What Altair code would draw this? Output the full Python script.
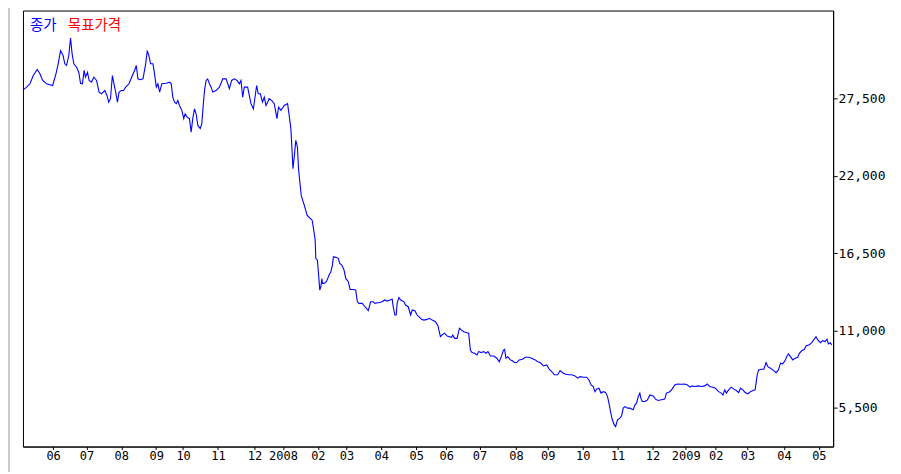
import altair as alt
import pandas as pd

# trading-day position (0 = first session shown) and closing price
day = [0.2, 2.3, 4.4, 6.5, 9.0, 10.7, 12.4, 14.9, 18.7, 20.8, 22.2, 23.7, 25.3, 26.4, 27.5, 28.9, 30.0, 31.0, 32.1, 33.8,
       35.2, 36.3, 37.5, 38.6, 39.4, 40.7, 41.7, 43.2, 44.7, 46.4, 48.0, 49.5, 51.6, 53.0, 54.1, 55.2, 56.4, 57.4, 58.5, 59.6,
       60.6, 62.1, 63.5, 64.8, 66.9, 69.0, 70.4, 71.5, 72.5, 74.0, 75.7, 77.4, 78.4, 79.4, 80.5, 82.0, 83.0, 84.1, 85.1, 86.2,
       87.6, 90.4, 92.5, 93.5, 94.5, 95.6, 96.7, 97.7, 98.7, 100.2, 101.4, 102.3, 103.6, 105.0, 106.1, 107.1, 108.2, 109.2, 110.3, 111.8,
       112.8, 113.6, 114.5, 115.5, 116.5, 117.6, 118.7, 119.7, 121.8, 123.9, 126.0, 128.1, 130.2, 131.6, 133.3, 135.0, 136.5, 137.5, 138.6, 139.6,
       141.7, 143.8, 145.3, 146.5, 147.4, 148.4, 149.7, 151.1, 152.2, 153.3, 154.3, 155.3, 156.8, 158.5, 160.2, 161.2, 162.7, 164.8, 166.9, 167.9,
       169.0, 169.6, 170.3, 171.1, 172.1, 173.1, 173.8, 174.2, 175.5, 177.4, 179.2, 181.1, 182.4, 183.6, 184.3, 184.7, 185.7, 186.4, 187.2, 187.9,
       188.5, 188.9, 189.9, 191.4, 193.1, 194.2, 195.2, 195.8, 197.3, 198.9, 199.8, 201.1, 202.5, 203.6, 205.2, 206.3, 208.8, 209.9, 210.9, 212.0,
       214.0, 215.7, 217.8, 219.3, 220.8, 222.0, 223.5, 224.5, 226.6, 228.1, 229.7, 231.4, 232.9, 233.5, 234.6, 235.4, 236.0, 237.1, 238.2, 239.2,
       240.3, 241.3, 243.0, 244.5, 245.5, 247.2, 248.6, 249.7, 251.4, 252.8, 254.9, 256.4, 258.1, 260.2, 261.8, 262.3, 263.3, 264.3, 266.0, 267.5,
       269.0, 270.3, 271.1, 272.3, 273.8, 275.3, 276.5, 278.0, 280.1, 281.1, 282.2, 283.2, 284.9, 286.4, 287.4, 289.1, 290.6, 292.0, 293.3, 294.8,
       296.9, 298.9, 300.4, 301.7, 303.1, 303.8, 304.6, 305.8, 307.4, 308.4, 310.1, 311.5, 313.0, 315.1, 316.8, 318.9, 320.9, 323.1, 324.7, 326.2,
       328.3, 330.4, 331.9, 333.5, 335.2, 337.3, 338.8, 340.3, 341.9, 344.0, 346.2, 348.2, 349.9, 351.4, 353.5, 355.5, 357.0, 358.3, 359.7, 360.8,
       361.8, 363.3, 364.6, 366.0, 367.5, 368.7, 369.6, 370.6, 371.7, 373.0, 373.8, 375.0, 376.5, 377.6, 378.6, 379.7, 381.3, 382.8, 384.9, 386.0,
       387.0, 388.1, 389.1, 389.7, 390.6, 392.3, 393.9, 395.4, 397.5, 398.9, 400.6, 402.7, 404.8, 405.9, 408.0, 409.4, 411.1, 412.8, 415.3, 417.4,
       419.1, 420.6, 422.0, 423.7, 425.8, 427.9, 430.0, 431.6, 433.1, 435.2, 436.7, 438.8, 440.4, 441.5, 442.6, 443.6, 445.1, 446.7, 448.4, 449.9,
       451.4, 452.6, 454.1, 455.5, 457.2, 458.9, 460.4, 461.8, 463.1, 464.0, 465.6, 467.3, 468.7, 469.8, 471.5, 473.6, 475.0, 476.5, 477.8, 479.2,
       480.7, 481.9, 482.8, 484.1, 485.5, 487.0, 488.7, 489.7, 491.2, 492.9, 493.9, 496.0, 497.5, 498.7, 500.2, 501.3, 503.0, 504.4, 505.9, 507.1,
       508.0, 509.2, 510.1]

price = [28110, 28300, 28540, 29130, 29560, 29250, 28780, 28540, 28420, 29250, 29960, 30900, 30550, 29960, 29840, 30550, 31800, 30670, 29960, 29720,
         29360, 28580, 28540, 29490, 29010, 29360, 28780, 28660, 29010, 28780, 27950, 27830, 28060, 27710, 27230, 27480, 29130, 28540, 27950, 27230,
         27950, 28060, 28060, 28300, 28540, 29130, 29490, 29840, 28890, 28830, 28890, 29960, 30900, 30550, 29960, 29960, 29250, 28300, 28540, 27950,
         28540, 28580, 28660, 28540, 27590, 27230, 27130, 27360, 27000, 26650, 26060, 26410, 26170, 26060, 25100, 26060, 26760, 26410, 25580, 25350,
         25700, 26880, 28060, 28780, 28890, 28540, 28300, 27950, 28060, 28300, 28890, 28890, 28190, 28780, 28890, 28780, 28540, 28780, 27590, 28300,
         28300, 27130, 26760, 27710, 28420, 27830, 27830, 27230, 27590, 27000, 27230, 27480, 27360, 27130, 26060, 26880, 26650, 27000, 27130, 26300,
         25350, 24040, 22510, 23340, 24520, 24040, 22510, 22040, 20610, 19910, 19200, 18980, 18840, 17990, 17430, 16130, 16000, 15060, 13870, 14110,
         14700, 14350, 14350, 14470, 14940, 15170, 15650, 16240, 16200, 16130, 15770, 15650, 15300, 14700, 14470, 13920, 13920, 13870, 13040, 12930,
         12930, 12690, 12410, 13040, 13040, 12930, 12970, 12970, 13040, 13170, 13090, 13170, 13220, 12690, 12100, 12100, 12930, 13350, 13170, 13110,
         13040, 12810, 12690, 12100, 12460, 12410, 12100, 11980, 11790, 11740, 11790, 11870, 11740, 11630, 11320, 11040, 10560, 10680, 10810, 10610,
         10560, 10520, 10680, 10440, 10440, 11160, 11040, 10910, 10840, 10810, 9610, 9430, 9380, 9260, 9500, 9430, 9500, 9380, 9500, 9190,
         9190, 9030, 8780, 9140, 9610, 9660, 9030, 9140, 8910, 8860, 8720, 8720, 8910, 8960, 9100, 9100, 9030, 8910, 8780, 8720,
         8480, 8550, 8250, 8080, 7850, 7850, 8150, 8000, 7910, 7850, 7850, 7770, 7610, 7720, 7680, 7680, 7480, 7130, 7020, 6650,
         6830, 6900, 6550, 6650, 6590, 6300, 5830, 5240, 4650, 4290, 4170, 4650, 4770, 4940, 5480, 5590, 5480, 5480, 5360, 5720,
         5830, 6300, 6550, 6190, 5950, 5950, 6070, 6420, 6350, 6120, 6020, 6070, 6120, 6550, 6650, 6830, 7130, 7200, 7180, 7200,
         7130, 6970, 7060, 7020, 7060, 7020, 7060, 7200, 7020, 6970, 6900, 6650, 6550, 6420, 6780, 6550, 6780, 6970, 6830, 6730,
         6590, 6900, 6780, 6590, 6500, 6650, 6730, 6780, 7850, 8200, 8250, 8250, 8720, 8430, 8310, 8150, 8000, 8200, 8680, 8630,
         8860, 9190, 9330, 9140, 8910, 9030, 9100, 9380, 9560, 9660, 9900, 9980, 10130, 10330, 10560, 10330, 10130, 10280, 10210, 10380,
         10040, 10130, 9980]

# first session of each month and its label
tick_days = [19, 40, 62, 84, 101, 123, 146, 164, 186, 204, 226, 248,
             267, 288, 311, 331, 353, 375, 397, 418, 437, 457, 480, 502]
tick_labels = ["06", "07", "08", "09", "10", "11", "12", "2008", "02", "03", "04", "05",
               "06", "07", "08", "09", "10", "11", "12", "2009", "02", "03", "04", "05"]
y_ticks = [5500, 11000, 16500, 22000, 27500]

legend_names = ["종가", "목표가격"]
legend_colors = ["#0000ff", "#ff0000"]

df = pd.DataFrame({"day": day, "price": price})

label_expr = "[" + ",".join("'" + t + "'" for t in tick_labels) + "][indexof([" + \
             ",".join(str(t) for t in tick_days) + "], datum.value)]"

line = alt.Chart(df).mark_line(color="#0000ff", strokeWidth=1.1).encode(
    x=alt.X("day:Q",
            scale=alt.Scale(domain=[0, 511], nice=False, zero=False),
            axis=alt.Axis(values=tick_days, labelExpr=label_expr, title=None, grid=False,
                          tickSize=3, labelPadding=1, domainColor="black", tickColor="black",
                          labelColor="black", labelFont="DejaVu Sans Mono", labelFontSize=12,
                          labelFlush=False, labelOverlap=False)),
    y=alt.Y("price:Q",
            scale=alt.Scale(domain=[2750, 33750], nice=False, zero=False),
            axis=alt.Axis(orient="right", values=y_ticks, format=",d", title=None, grid=False,
                          tickSize=4, labelPadding=1, domainColor="black", tickColor="black",
                          labelColor="black", labelFont="DejaVu Sans Mono", labelFontSize=13,
                          labelOverlap=False)),
)

leg1 = alt.Chart(pd.DataFrame({"t": [legend_names[0]]})).mark_text(
    align="left", baseline="middle", font="Noto Sans CJK KR", fontSize=14.5, color=legend_colors[0]
).encode(text="t:N", x=alt.value(7), y=alt.value(16))

leg2 = alt.Chart(pd.DataFrame({"t": [legend_names[1]]})).mark_text(
    align="left", baseline="middle", font="Noto Sans CJK KR", fontSize=14.5, color=legend_colors[1]
).encode(text="t:N", x=alt.value(45), y=alt.value(16))

frame = alt.Chart(pd.DataFrame({"a": [0]})).mark_rule(color="#9a9a9a", strokeWidth=1).encode(
    x=alt.value(-14), y=alt.value(-8), y2=alt.value(470))

chart = alt.layer(frame, line, leg1, leg2).properties(
    width=812, height=437,
    autosize=alt.AutoSizeParams(type="none"),
    padding={"left": 15, "top": 2, "right": 60, "bottom": 25},
    background="white",
).configure_view(stroke="black", strokeWidth=1)

chart.save("out.html", embed_options={"renderer": "svg", "actions": False})
